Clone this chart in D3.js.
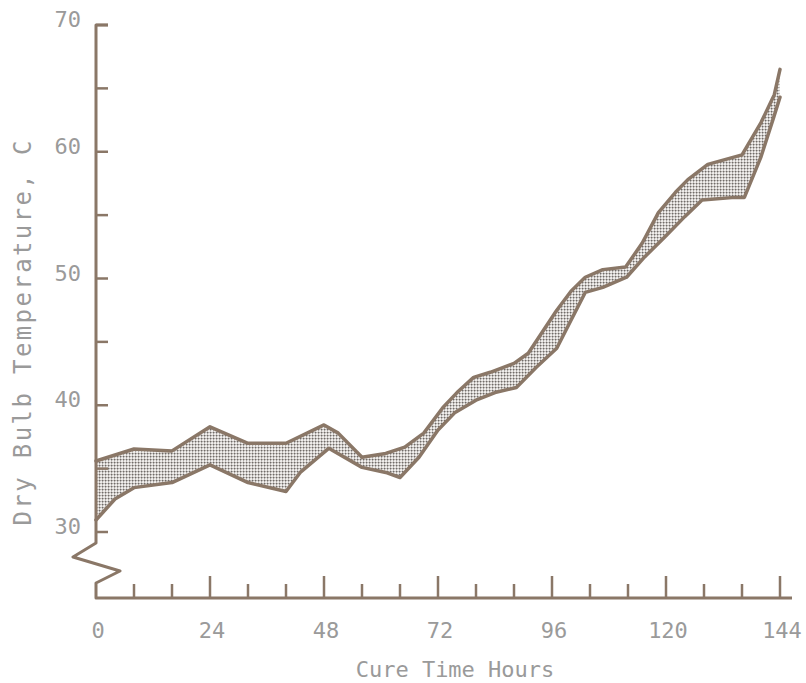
<!DOCTYPE html>
<meta charset="utf-8">
<style>
    body { margin: 0; background: #fff; }
    .lbl {
        font-family: "DejaVu Sans Mono", monospace;
        fill: #9a9a9a;
    }
    .band-line {
        fill: none;
        stroke: #8a7767;
        stroke-width: 3.5;
        stroke-linejoin: round;
        stroke-linecap: round;
    }
    .axis-line {
        fill: none;
        stroke: #8a7767;
        stroke-width: 3;
        stroke-linejoin: round;
    }
</style>

<svg width="806" height="683"></svg>
<script src="https://d3js.org/d3.v7.min.js"></script>

<script>
    // cure time (hours) / dry bulb temperature (C)
    var upperHours = [0, 8, 16, 24, 32, 40, 48, 51, 56, 61, 65, 69, 73, 76, 79.5, 83, 88, 91, 94, 97, 100, 103, 106.7, 111.5, 115, 118.4, 122, 124.6, 128.8, 136, 140, 142.8, 144];
    var upperTemps = [35.6, 36.55, 36.4, 38.3, 37.0, 37.0, 38.45, 37.8, 35.9, 36.2, 36.7, 37.8, 39.8, 41.0, 42.2, 42.6, 43.3, 44.1, 45.8, 47.5, 49.0, 50.1, 50.7, 50.9, 52.8, 55.2, 56.8, 57.8, 59.0, 59.75, 62.3, 64.5, 66.5];

    var lowerHours = [0, 4, 8, 16, 24, 32, 40, 43, 49, 56, 61, 64, 68, 72, 75.5, 80, 84, 88.5, 92.7, 97, 100, 103, 106.7, 111.7, 115.5, 119.8, 124, 127.6, 134.5, 136.5, 140, 142.7, 144];
    var lowerTemps = [30.95, 32.6, 33.5, 33.9, 35.3, 33.9, 33.2, 34.7, 36.6, 35.1, 34.7, 34.3, 35.9, 38.05, 39.4, 40.4, 41.0, 41.4, 43.0, 44.5, 46.7, 48.9, 49.3, 50.1, 51.7, 53.3, 54.9, 56.2, 56.4, 56.4, 59.6, 62.75, 64.3];

    var xTickValues = d3.range(0, 145, 8);
    var xTickLabels = [0, 24, 48, 72, 96, 120, 144];
    var yTickValues = [30, 35, 40, 45, 50, 55, 60, 65, 70];
    var yTickLabels = [30, 40, 50, 60, 70];

    var svg = d3.select("svg");
    var x = d3.scaleLinear().domain([0, 144]).range([96, 780]);
    var y = d3.scaleLinear().domain([30, 70]).range([532, 25]);
    var axisY = 598;      // baseline of the broken x axis
    var x0 = x(0);

    // dotted screen for the band
    var defs = svg.append("defs");
    var pat = defs.append("pattern")
        .attr("id", "dots")
        .attr("patternUnits", "userSpaceOnUse")
        .attr("width", 3).attr("height", 3);
    pat.append("rect").attr("width", 3).attr("height", 3).attr("fill", "#efedeb");
    pat.append("rect").attr("width", 3).attr("height", 1).attr("fill", "#c6c2bf");
    pat.append("rect").attr("width", 1).attr("height", 3).attr("fill", "#c6c2bf");
    pat.append("rect").attr("width", 1.3).attr("height", 1.3).attr("fill", "#6f6b68");

    var upper = upperHours.map(function (h, i) { return [h, upperTemps[i]]; });
    var lower = lowerHours.map(function (h, i) { return [h, lowerTemps[i]]; });

    var line = d3.line()
        .x(function (d) { return x(d[0]); })
        .y(function (d) { return y(d[1]); });

    svg.append("path")
        .attr("d", line(upper.concat(lower.slice().reverse())) + "Z")
        .attr("fill", "url(#dots)");

    svg.append("path").attr("class", "band-line").attr("d", line(upper));
    svg.append("path").attr("class", "band-line").attr("d", line(lower));

    // y axis with break
    var brk = y(30) + 11;
    svg.append("path")
        .attr("class", "axis-line")
        .attr("d", "M" + [x0 + 12, y(70)] + "L" + [x0, y(70)] + "L" + [x0, brk] +
            "L" + [x0 - 23, brk + 14] + "L" + [x0 + 24, brk + 28] +
            "L" + [x0, brk + 40] + "L" + [x0, axisY] + "L" + [792, axisY]);

    svg.selectAll(".ytick")
        .data(yTickValues)
        .enter().append("line")
        .attr("class", "ytick")
        .attr("x1", x0).attr("x2", x0 + 12)
        .attr("y1", function (d) { return y(d); })
        .attr("y2", function (d) { return y(d); })
        .attr("stroke", "#8a7767").attr("stroke-width", 2.5);

    svg.selectAll(".ylab")
        .data(yTickLabels)
        .enter().append("text")
        .attr("class", "lbl")
        .attr("x", 81)
        .attr("y", function (d) { return y(d) + 2; })
        .attr("text-anchor", "end")
        .style("font-size", "22px")
        .text(function (d) { return d; });

    svg.selectAll(".xtick")
        .data(xTickValues.filter(function (d) { return d > 0; }))
        .enter().append("line")
        .attr("class", "xtick")
        .attr("x1", function (d) { return x(d); })
        .attr("x2", function (d) { return x(d); })
        .attr("y1", axisY)
        .attr("y2", function (d) { return d % 24 === 0 ? axisY - 22 : axisY - 14; })
        .attr("stroke", "#8a7767").attr("stroke-width", 2.5);

    svg.selectAll(".xlab")
        .data(xTickLabels)
        .enter().append("text")
        .attr("class", "lbl")
        .attr("x", function (d) { return x(d) + 2; })
        .attr("y", 638)
        .attr("text-anchor", "middle")
        .style("font-size", "22px")
        .text(function (d) { return d; });

    svg.append("text")
        .attr("class", "lbl")
        .attr("x", 455).attr("y", 677)
        .attr("text-anchor", "middle")
        .style("font-size", "22px")
        .text("Cure Time Hours");

    svg.append("text")
        .attr("class", "lbl")
        .attr("transform", "translate(31,333) rotate(-90)")
        .attr("text-anchor", "middle")
        .attr("textLength", 385)
        .attr("lengthAdjust", "spacing")
        .style("font-size", "24px")
        .text("Dry Bulb Temperature, C");
</script>
